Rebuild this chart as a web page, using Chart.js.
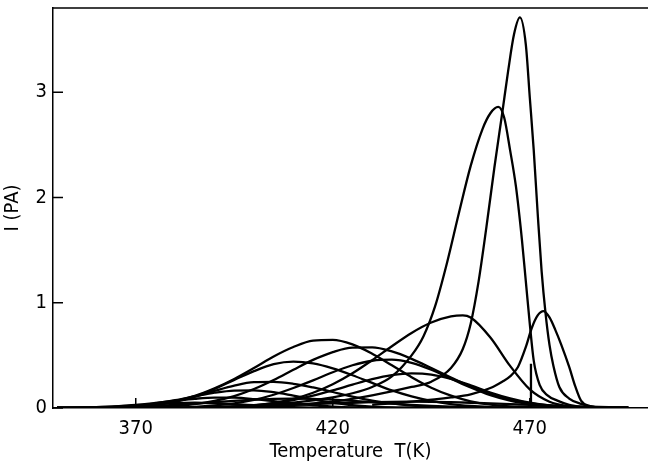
<!DOCTYPE html>
<html>
<head>
<meta charset="utf-8">
<script src="https://cdn.jsdelivr.net/npm/chart.js@4"></script>
<style>
  body { margin: 0; background: #fff; }
  canvas { display: block; }
</style>
</head>
<body>
<canvas id="tscChart" width="648" height="464"></canvas>
<script>
// Temperature grid (K) shared by the broad low-temperature curves
const gridT = [350,355,360,365,370,375,380,385,390,395,400,405,410,415,420,425,430,435,440,445,450,455,460,465,470,475,480,485,490,495];

// Current I (pA) of each broad curve on gridT
const curveL1 = [0.001,0.003,0.008,0.015,0.026,0.037,0.047,0.05,0.047,0.037,0.026,0.015,0.008,0.003,0.001,0,0,0,0,0,0,0,0,0,0,0,0,0,0,0];
const curveL2 = [0.001,0.003,0.007,0.016,0.029,0.048,0.069,0.088,0.099,0.098,0.085,0.065,0.044,0.026,0.014,0.006,0.003,0.001,0,0,0,0,0,0,0,0,0,0,0,0];
const curveL3 = [0,0.002,0.004,0.011,0.023,0.044,0.074,0.11,0.145,0.166,0.168,0.15,0.117,0.082,0.05,0.026,0.012,0.005,0.002,0,0,0,0,0,0,0,0,0,0,0];
const curveL4 = [0,0.001,0.002,0.006,0.015,0.034,0.065,0.109,0.163,0.213,0.245,0.248,0.23,0.195,0.152,0.109,0.071,0.043,0.023,0.012,0.006,0.002,0.001,0,0,0,0,0,0,0];
const curveL5 = [0,0.001,0.002,0.005,0.012,0.029,0.059,0.11,0.18,0.267,0.35,0.416,0.44,0.423,0.376,0.311,0.238,0.167,0.11,0.067,0.037,0.019,0.009,0.004,0.002,0,0,0,0,0];
const curveA  = [0,0.001,0.003,0.008,0.017,0.035,0.066,0.115,0.187,0.276,0.38,0.49,0.58,0.64,0.647,0.604,0.516,0.406,0.293,0.193,0.117,0.064,0.033,0.015,0.007,0.003,0.001,0,0,0];
const curveB  = [0,0,0.001,0.001,0.004,0.008,0.018,0.036,0.067,0.113,0.18,0.266,0.363,0.457,0.531,0.574,0.575,0.537,0.467,0.38,0.29,0.203,0.135,0.083,0.047,0.025,0.013,0.006,0.002,0];
const curveE  = [0,0,0,0,0.001,0.002,0.005,0.011,0.024,0.044,0.077,0.126,0.19,0.262,0.34,0.406,0.449,0.459,0.429,0.363,0.279,0.195,0.122,0.07,0.037,0.017,0.007,0.003,0,0];
const curveF  = [0,0,0,0,0,0,0.001,0.003,0.006,0.012,0.024,0.045,0.075,0.117,0.167,0.222,0.274,0.312,0.329,0.318,0.276,0.215,0.147,0.092,0.051,0.025,0.011,0.005,0.002,0];
const curveZ1 = [0,0,0,0.001,0.001,0.002,0.003,0.005,0.008,0.012,0.017,0.023,0.029,0.037,0.044,0.05,0.055,0.059,0.06,0.059,0.055,0.05,0.044,0.037,0.029,0.023,0.017,0.012,0.008,0.005];
const curveZ2 = [0.001,0.002,0.004,0.007,0.012,0.019,0.029,0.041,0.055,0.068,0.079,0.087,0.09,0.087,0.079,0.068,0.055,0.041,0.029,0.019,0.012,0.007,0.004,0.002,0.001,0,0,0,0,0];

// High-temperature peaks, each with its own temperature points
const tempC = [380,385,390,395,400,405,410,415,420,425,430,435,440,445,450,453,455,460,465,470,475,480,485,490];
const curveC = [0.001,0.003,0.006,0.013,0.026,0.049,0.087,0.145,0.226,0.33,0.454,0.587,0.713,0.812,0.87,0.88,0.86,0.67,0.40,0.177,0.06,0.016,0.003,0];

const tempG = [390,400,410,420,425,430,435,440,443,446,449,452,455,458,460,462,463.5,465,466.5,468,469,470,471,472.5,474.5,477,480,485];
const curveG = [0.01,0.02,0.05,0.1,0.14,0.2,0.3,0.5,0.68,0.97,1.38,1.85,2.3,2.65,2.8,2.86,2.76,2.45,2.1,1.6,1.2,0.8,0.45,0.22,0.12,0.07,0.03,0];

const tempH = [400,410,420,430,440,445,450,453,455,457,459,461,463,464.5,466,467.5,469,470,471,472,473,474,475,476,477.5,480,483,488];
const curveH = [0.01,0.03,0.06,0.12,0.2,0.25,0.38,0.56,0.8,1.2,1.72,2.28,2.8,3.2,3.55,3.71,3.45,2.95,2.45,1.85,1.3,0.9,0.6,0.4,0.2,0.09,0.04,0];

const tempD = [430,440,450,455,460,463,465,467,469,470.5,472,473.5,475,476.5,478,480,481.5,483,485,490];
const curveD = [0.03,0.06,0.1,0.13,0.19,0.25,0.3,0.39,0.58,0.76,0.88,0.92,0.86,0.74,0.6,0.39,0.21,0.07,0.02,0];

// Abrupt drop seen near 470 K
const tempCut = [470.3,470.3];
const curveCut = [0.42,0];

// Axis ticks
const xTicks = [370,420,470];
const yTicks = [0,1,2,3];

const FONT = "'DejaVu Sans Condensed', 'Liberation Sans Narrow', 'DejaVu Sans', sans-serif";

function pts(xs, ys) {
  return xs.map((x, i) => ({ x: x, y: ys[i] }));
}

function curve(xs, ys) {
  return {
    data: pts(xs, ys),
    borderColor: '#000',
    borderWidth: 2.3,
    pointRadius: 0,
    fill: false,
    cubicInterpolationMode: 'monotone'
  };
}

const datasets = [
  curve(gridT, curveZ1),
  curve(gridT, curveZ2),
  curve(gridT, curveL1),
  curve(gridT, curveL2),
  curve(gridT, curveL3),
  curve(gridT, curveL4),
  curve(gridT, curveL5),
  curve(gridT, curveA),
  curve(gridT, curveB),
  curve(gridT, curveE),
  curve(gridT, curveF),
  curve(tempC, curveC),
  curve(tempG, curveG),
  curve(tempH, curveH),
  curve(tempD, curveD),
  Object.assign(curve(tempCut, curveCut), { cubicInterpolationMode: 'default', tension: 0 })
];

// inward tick marks + top frame line
const frame = {
  id: 'frame',
  afterDraw(chart) {
    const { ctx, chartArea, scales } = chart;
    ctx.save();
    ctx.strokeStyle = '#000';
    ctx.lineWidth = 1.5;
    ctx.beginPath();
    ctx.moveTo(chartArea.left, chartArea.top);
    ctx.lineTo(chart.width, chartArea.top);
    scales.x.ticks.forEach(t => {
      const px = scales.x.getPixelForValue(t.value);
      ctx.moveTo(px, chartArea.bottom);
      ctx.lineTo(px, chartArea.bottom - 10);
    });
    scales.y.ticks.forEach(t => {
      const py = scales.y.getPixelForValue(t.value);
      ctx.moveTo(chartArea.left, py);
      ctx.lineTo(chartArea.left + 10, py);
    });
    ctx.stroke();
    ctx.restore();
  }
};

new Chart(document.getElementById('tscChart'), {
  type: 'line',
  data: { datasets: datasets },
  plugins: [frame],
  options: {
    responsive: false,
    animation: false,
    layout: { padding: { top: 8, right: 0, left: 0, bottom: 0 } },
    plugins: { legend: { display: false }, tooltip: { enabled: false } },
    scales: {
      x: {
        type: 'linear',
        min: 349, max: 500,
        afterBuildTicks: s => { s.ticks = xTicks.map(v => ({ value: v })); },
        afterFit: s => { s.height = 56; s.paddingLeft = 0; s.paddingRight = 0; },
        grid: { drawOnChartArea: false, drawTicks: false },
        border: { display: true, color: '#000', width: 1.5 },
        ticks: { color: '#000', padding: 9, font: { family: FONT, size: 20 } },
        title: {
          display: true, text: 'Temperature  T(K)', color: '#000',
          padding: { top: 0, bottom: 0 },
          font: { family: FONT, size: 20 }
        }
      },
      y: {
        min: 0, max: 3.8,
        afterBuildTicks: s => { s.ticks = yTicks.map(v => ({ value: v })); },
        afterFit: s => { s.width = 53; s.paddingTop = 0; s.paddingBottom = 0; },
        grid: { drawOnChartArea: false, drawTicks: false },
        border: { display: true, color: '#000', width: 1.5 },
        ticks: { color: '#000', padding: 6, font: { family: FONT, size: 20 } },
        title: {
          display: true, text: 'I (PA)', color: '#000',
          padding: { top: 1, bottom: 0 },
          font: { family: FONT, size: 20 }
        }
      }
    }
  }
});
</script>
</body>
</html>
